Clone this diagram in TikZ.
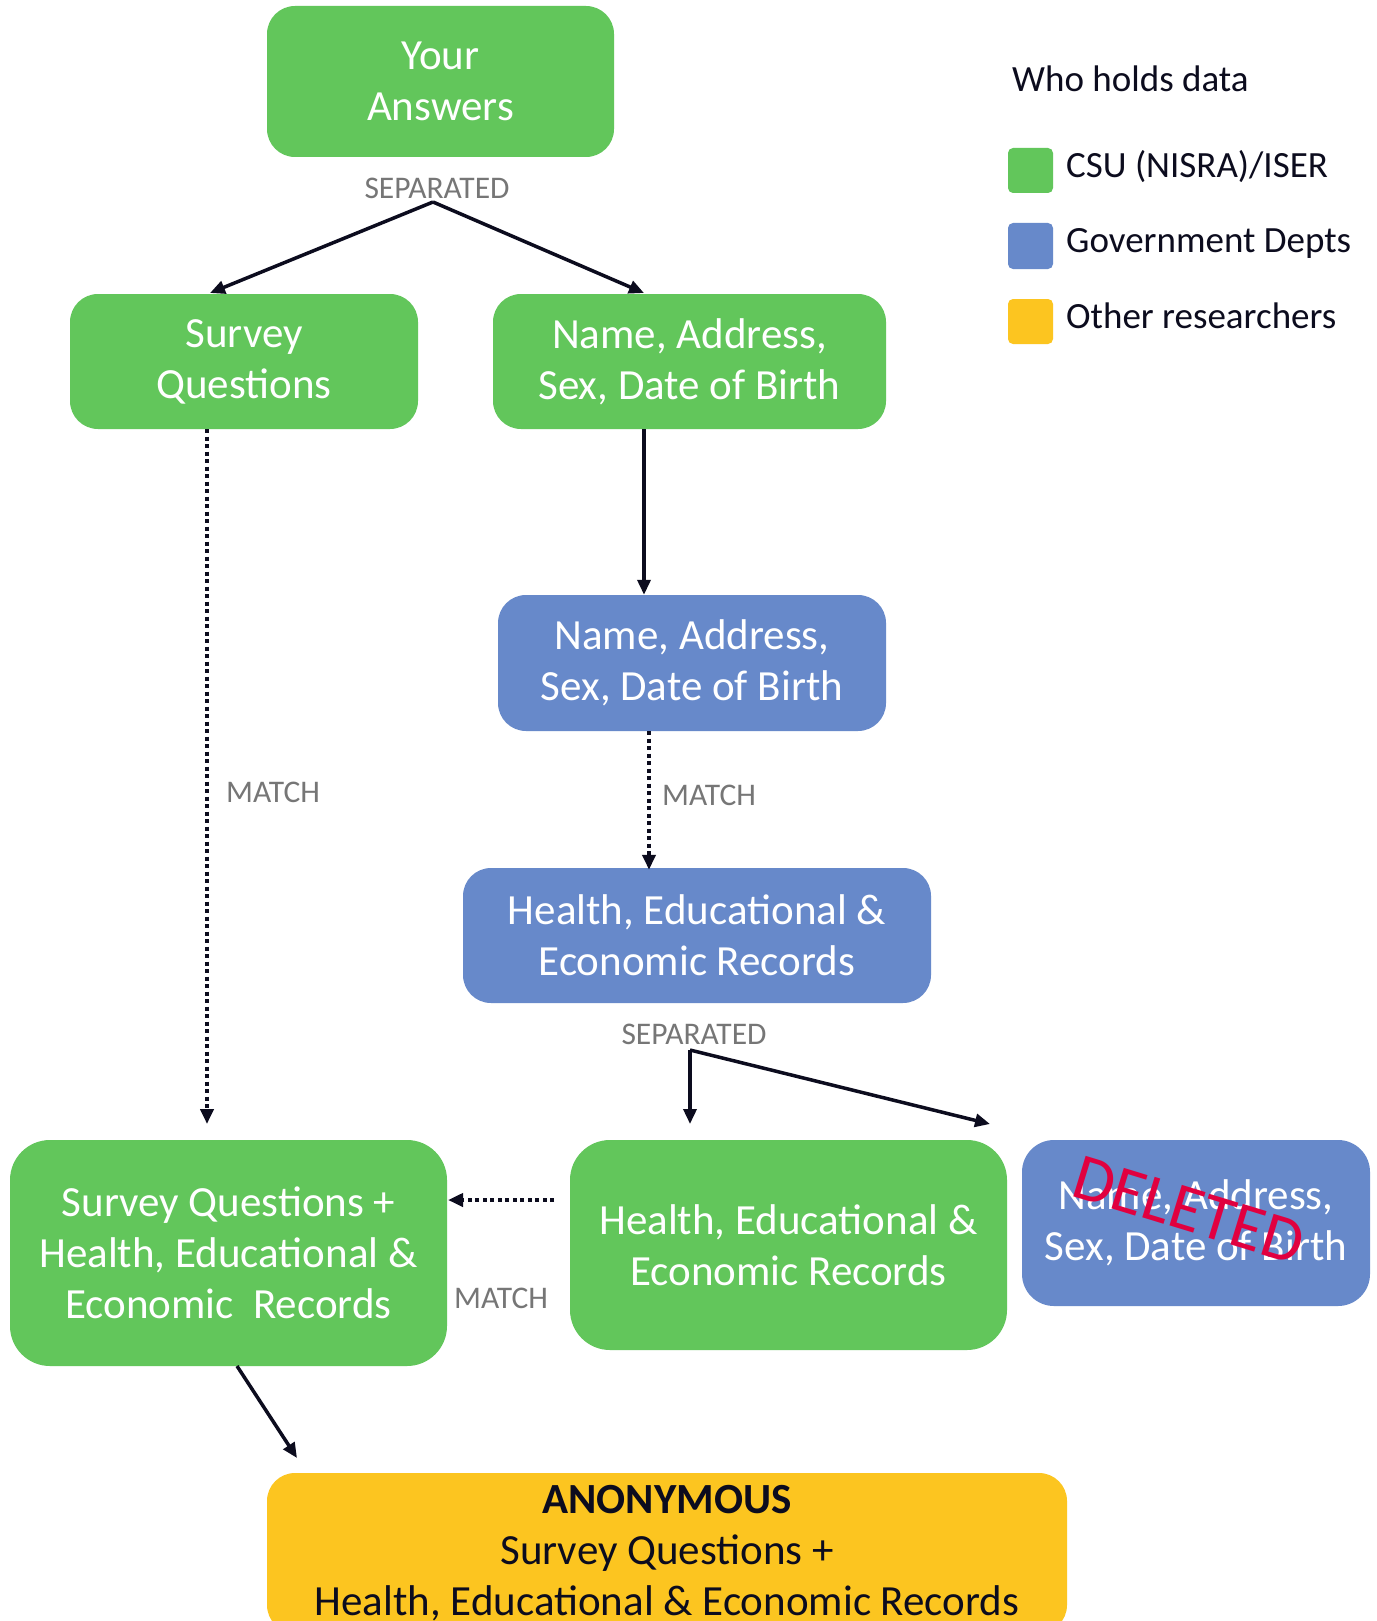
\documentclass[tikz,border=0pt]{standalone}
\usepackage{fontspec}
\setmainfont{Carlito}
\usetikzlibrary{arrows.meta}
\definecolor{cgreen}{HTML}{62C65B}
\definecolor{cblue}{HTML}{6789CA}
\definecolor{cyellow}{HTML}{FCC520}
\definecolor{cdark}{HTML}{0C0C1E}
\definecolor{cgray}{HTML}{767676}
\definecolor{cred}{HTML}{E1003F}
\begin{document}
\begin{tikzpicture}[x=1pt,y=-1pt,
  box/.style={rectangle, rounded corners=28pt, inner sep=0pt, align=center, text=white,
    font=\fontsize{43}{51}\selectfont},
  gbox/.style={box, fill=cgreen},
  bbox/.style={box, fill=cblue},
  ybox/.style={box, fill=cyellow, text=cdark},
  lbl/.style={text=cgray, font=\fontsize{31.5}{36}\selectfont, inner sep=0pt},
  legtext/.style={text=cdark, font=\fontsize{37}{42}\selectfont, inner sep=0pt, anchor=base west},
  legsq/.style={rounded corners=5pt, draw=none},
  tip/.style={-{Triangle[length=15pt,width=13pt]}},
  arr/.style={draw=cdark, line width=3.5pt, tip},
  dotarr/.style={draw=cdark, line width=4pt, dash pattern=on 4pt off 3.5pt, tip},
]
\useasboundingbox (0,0) rectangle (1376,1621);
\fill[white] (0,0) rectangle (1376,1621);

% boxes
\node[gbox, minimum width=347pt, minimum height=151pt] (ya) at (440.5,81.5) {Your\\Answers};
\node[gbox, minimum width=348pt, minimum height=135pt] (sq) at (244,361.5) {Survey\\Questions};
\node[gbox, minimum width=393pt, minimum height=135pt] (n1) at (689.5,361.5) {Name, Address,\\Sex, Date of Birth};
\node[bbox, minimum width=388pt, minimum height=136pt] (n2) at (692,663) {Name, Address,\\Sex, Date of Birth};
\node[bbox, minimum width=468pt, minimum height=135pt] (h1) at (697,935.5) {Health, Educational \&\\Economic Records};
\node[gbox, rounded corners=40pt, minimum width=437pt, minimum height=226pt] (sh) at (228.5,1253) {Survey Questions +\\Health, Educational \&\\Economic\ \ Records};
\node[gbox, rounded corners=40pt, minimum width=437pt, minimum height=210pt] (h2) at (788.5,1245) {Health, Educational \&\\Economic Records};
\node[bbox, rounded corners=32pt, minimum width=348pt, minimum height=166pt] (del) at (1196,1223) {Name, Address,\\Sex, Date of Birth};
\node[ybox, minimum width=800pt, minimum height=160pt] (an) at (667,1553) {\textbf{ANONYMOUS}\\Survey Questions +\\Health, Educational \& Economic Records};
\node[text=cred, font=\fontsize{66}{70}\selectfont, rotate=-17, inner sep=0pt] (deltxt) at (1189,1210) {DELETED};

% labels
\node[lbl] (sep1) at (437,188) {SEPARATED};
\node[lbl] (sep2) at (694,1034) {SEPARATED};
\node[lbl, anchor=west] (m1) at (226,792) {MATCH};
\node[lbl, anchor=west] (m2) at (662,795) {MATCH};
\node[lbl] (m3) at (501,1298) {MATCH};

% coordinates
\coordinate (apex1) at (433,202);
\coordinate (sqin) at (210,293);
\coordinate (n1in) at (644,293);
\coordinate (xa) at (644,0);
\coordinate (xb) at (649,0);
\coordinate (xc) at (207,0);
\coordinate (apex2) at (690,1050);
\coordinate (h2in) at (690,1124);
\coordinate (delin) at (990,1124);
\coordinate (shin) at (207,1124);
\coordinate (h2out) at (554,1200);
\coordinate (shside) at (448,1200);
\coordinate (shout) at (237,1366);
\coordinate (anin) at (297,1458);

% connectors
\draw[arr] (apex1) -- (sqin);
\draw[arr] (apex1) -- (n1in);
\draw[arr] (xa |- n1.south) -- (xa |- n2.north);
\draw[dotarr] (xb |- n2.south) -- ([yshift=-2pt]xb |- h1.north);
\draw[dotarr] (xc |- sq.south) -- (shin);
\draw[arr, line cap=butt] (apex2) -- (h2in);
\draw[arr] (apex2) -- (delin);
\draw[dotarr] (h2out) -- (shside);
\draw[arr] (shout) -- (anin);

% legend
\node[legtext] (legtitle) at (1012,92) {Who holds data};
\fill[cgreen, legsq] (1008,148) rectangle (1053,193);
\fill[cblue, legsq] (1008,223) rectangle (1053,269);
\fill[cyellow, legsq] (1008,299) rectangle (1053,344);
\node[legtext] (leg1) at (1066,178) {CSU (NISRA)/ISER};
\node[legtext] (leg2) at (1066,253) {Government Depts};
\node[legtext] (leg3) at (1066,328) {Other researchers};
\end{tikzpicture}
\end{document}
